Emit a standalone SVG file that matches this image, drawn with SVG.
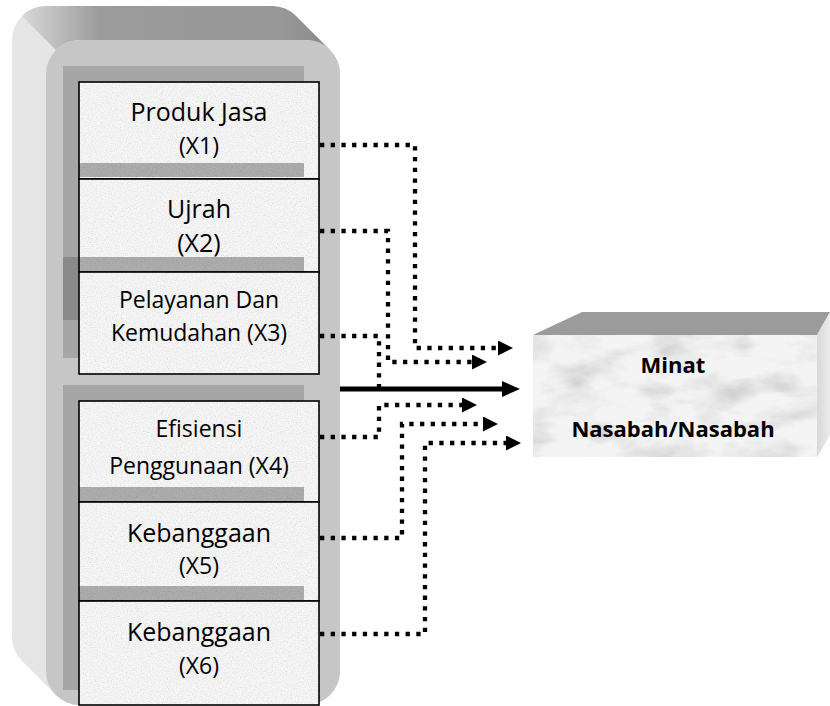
<svg xmlns="http://www.w3.org/2000/svg" width="830" height="706" viewBox="0 0 830 706">
<defs>
<style>
.lbl{font-family:"Open Sans","Noto Sans","DejaVu Sans",sans-serif;fill:#000;text-anchor:middle}
.big{font-size:25px}
.sm{font-size:23px}
.bold{font-family:"Open Sans","Noto Sans","DejaVu Sans",sans-serif;font-weight:bold;font-size:22px;fill:#000;text-anchor:middle}
.tex{fill:#f6f6f6}
.band{fill:#adadad}
.box{fill:none;stroke:#000;stroke-width:1.6}
.dot{fill:none;stroke:#000;stroke-width:4.3;stroke-dasharray:4.3 6.4;marker-end:url(#ah)}
.solid{fill:none;stroke:#000;stroke-width:5;marker-end:url(#ahs)}
</style>
<filter id="grain" x="0" y="0" width="100%" height="100%">
<feTurbulence type="fractalNoise" baseFrequency="0.8" numOctaves="2" seed="4" result="n"/>
<feColorMatrix in="n" type="matrix" values="0.33 0.33 0.33 0 0 0.33 0.33 0.33 0 0 0.33 0.33 0.33 0 0 0 0 0 0 1" result="g"/>
<feComponentTransfer in="g" result="t">
<feFuncR type="linear" slope="0.7" intercept="0.62"/>
<feFuncG type="linear" slope="0.7" intercept="0.62"/>
<feFuncB type="linear" slope="0.7" intercept="0.62"/>
</feComponentTransfer>
<feBlend in="SourceGraphic" in2="t" mode="multiply" result="b"/>
<feComposite in="b" in2="SourceGraphic" operator="in"/>
</filter>
<filter id="marble" x="0" y="0" width="100%" height="100%">
<feTurbulence type="fractalNoise" baseFrequency="0.02 0.045" numOctaves="4" seed="9" result="n"/>
<feColorMatrix in="n" type="matrix" values="0.33 0.33 0.33 0 0 0.33 0.33 0.33 0 0 0.33 0.33 0.33 0 0 0 0 0 0 1" result="g"/>
<feComponentTransfer in="g" result="t">
<feFuncR type="linear" slope="1.0" intercept="0.46"/>
<feFuncG type="linear" slope="1.0" intercept="0.46"/>
<feFuncB type="linear" slope="1.0" intercept="0.46"/>
</feComponentTransfer>
<feBlend in="SourceGraphic" in2="t" mode="multiply" result="b"/>
<feComposite in="b" in2="SourceGraphic" operator="in"/>
</filter>
<linearGradient id="topg" x1="0" y1="0" x2="1" y2="0">
<stop offset="0" stop-color="#d8d8d8"/>
<stop offset="0.25" stop-color="#9c9c9c"/>
<stop offset="0.85" stop-color="#979797"/>
<stop offset="1" stop-color="#8a8a8a"/>
</linearGradient>
<linearGradient id="leftg" x1="0" y1="0" x2="1" y2="0">
<stop offset="0" stop-color="#e6e6e6"/>
<stop offset="1" stop-color="#dadada"/>
</linearGradient>
<linearGradient id="sideg" x1="0" y1="0" x2="1" y2="0">
<stop offset="0" stop-color="#d8d8d8"/>
<stop offset="1" stop-color="#ebebeb"/>
</linearGradient>
<marker id="ah" markerUnits="userSpaceOnUse" markerWidth="15" markerHeight="15" refX="0" refY="7.5" orient="auto">
<path d="M0,0 L15,7.5 L0,15 Z" fill="#000"/>
</marker>
<marker id="ahs" markerUnits="userSpaceOnUse" markerWidth="18" markerHeight="16" refX="0" refY="8" orient="auto">
<path d="M0,0 L18,8 L0,16 Z" fill="#000"/>
</marker>
</defs>
<rect width="830" height="706" fill="#fff"/>

<g id="container">
<path d="M12,40 A34,34 0 0 1 46,6 L272,6 A34,34 0 0 1 296,16 L330,50 A34,34 0 0 1 340,74 L340,671 A34,34 0 0 1 306,705 L80,705 A34,34 0 0 1 56,695 L22,661 A34,34 0 0 1 12,637 Z" fill="url(#leftg)"/>
<path d="M22,16 A34,34 0 0 1 46,6 L272,6 A34,34 0 0 1 296,16 L330,50 A34,34 0 0 0 306,40 L80,40 A34,34 0 0 0 56,50 Z" fill="url(#topg)"/>
<rect x="46" y="40" width="294" height="665" rx="34" fill="#c6c6c6"/>
<rect x="63" y="66" width="241" height="292" fill="#a6a6a6"/>
<rect x="63" y="257" width="16" height="63" fill="#8a8a8a"/>
<rect x="63" y="385" width="241" height="305" fill="#a6a6a6"/>
</g>

<g id="x1">
<rect class="tex" x="79" y="82" width="240" height="97" filter="url(#grain)"/>
<rect class="band" x="79" y="163" width="225" height="14" filter="url(#grain)"/>
<rect class="box" x="79" y="82" width="240" height="97"/>
<text class="lbl big" x="199" y="121">Produk Jasa</text>
<text class="lbl sm" x="199" y="154">(X1)</text>
</g>
<g id="x2">
<rect class="tex" x="79" y="179" width="240" height="93" filter="url(#grain)"/>
<rect class="band" x="79" y="257" width="225" height="14" filter="url(#grain)"/>
<rect class="box" x="79" y="179" width="240" height="93"/>
<text class="lbl big" x="199" y="218">Ujrah</text>
<text class="lbl big" x="199" y="252">(X2)</text>
</g>
<g id="x3">
<rect class="tex" x="79" y="272" width="240" height="102" filter="url(#grain)"/>
<rect class="box" x="79" y="272" width="240" height="102"/>
<text class="lbl sm" x="199" y="308">Pelayanan Dan</text>
<text class="lbl sm" x="199" y="341">Kemudahan (X3)</text>
</g>
<g id="x4">
<rect class="tex" x="79" y="401" width="240" height="101" filter="url(#grain)"/>
<rect class="band" x="79" y="487" width="225" height="14" filter="url(#grain)"/>
<rect class="box" x="79" y="401" width="240" height="101"/>
<text class="lbl sm" x="199" y="437">Efisiensi</text>
<text class="lbl sm" x="199" y="474">Penggunaan (X4)</text>
</g>
<g id="x5">
<rect class="tex" x="79" y="502" width="240" height="99" filter="url(#grain)"/>
<rect class="band" x="79" y="586" width="225" height="14" filter="url(#grain)"/>
<rect class="box" x="79" y="502" width="240" height="99"/>
<text class="lbl big" x="199" y="542">Kebanggaan</text>
<text class="lbl sm" x="199" y="574">(X5)</text>
</g>
<g id="x6">
<rect class="tex" x="79" y="601" width="240" height="104" filter="url(#grain)"/>
<rect class="box" x="79" y="601" width="240" height="104"/>
<text class="lbl big" x="199" y="641">Kebanggaan</text>
<text class="lbl sm" x="199" y="674">(X6)</text>
</g>

<g id="target">
<path d="M533,335 L582,312 L830,312 L817,335 Z" fill="#9b9b9b"/>
<path d="M817,335 L830,312 L830,435 L817,457 Z" fill="url(#sideg)"/>
<rect x="533" y="335" width="284" height="122" fill="#f4f4f4" filter="url(#marble)"/>
<text class="bold" x="673" y="373">Minat</text>
<text class="bold" x="673" y="437">Nasabah/Nasabah</text>
</g>

<g id="connectors">
<path class="dot" d="M320,145 H415 V348 H498"/>
<path class="dot" d="M320,231 H388 V362 H472"/>
<path class="dot" d="M320,336 H379 V389" style="marker-end:none"/>
<path class="dot" d="M320,437 H379 V405 H462"/>
<path class="dot" d="M320,538 H402 V424 H483"/>
<path class="dot" d="M320,634 H425 V443 H506"/>
<path class="solid" d="M340,389 H502"/>
</g>
</svg>
